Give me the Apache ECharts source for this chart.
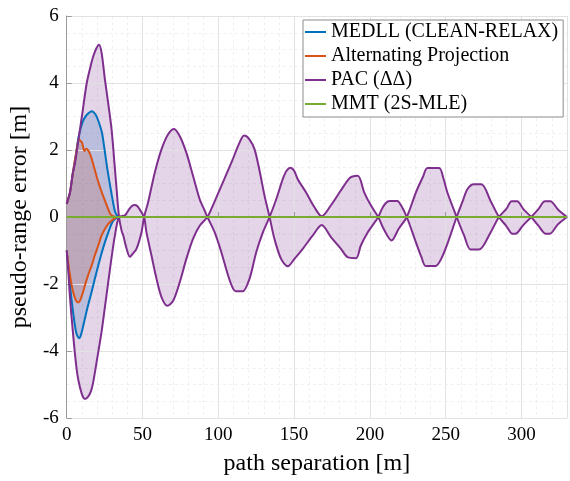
<!DOCTYPE html>
<html>
<head>
<meta charset="utf-8">
<script src="https://cdn.jsdelivr.net/npm/echarts@6/dist/echarts.min.js"></script>
<style>
  html, body { margin: 0; padding: 0; background: #fff; }
  #chart { width: 570px; height: 481px; }
</style>
</head>
<body>
<div id="chart"></div>
<script>
// Pseudo-range error bounds [m] versus path separation [m] for each method.
const seriesNames = ['MEDLL (CLEAN-RELAX)', 'Alternating Projection', 'PAC (\u0394\u0394)', 'MMT (2S-MLE)'];
const xTicks = [0, 50, 100, 150, 200, 250, 300];
const yTicks = [-6, -4, -2, 0, 2, 4, 6];

// MEDLL (CLEAN-RELAX): upper and lower error bound
const medllUpperX = [0, 2.2, 4, 6, 7.7, 9.5, 11.2, 13.4, 16.6, 19, 21, 23.2, 25, 26.5, 28, 29.8, 32, 34];
const medllUpperY = [0.39, 0.74, 1.3, 1.85, 2.35, 2.7, 2.91, 3.06, 3.16, 3.06, 2.85, 2.52, 2.0, 1.52, 1.1, 0.63, 0.14, 0];
const medllLowerX = [0, 1.5, 3, 4.5, 6, 7, 8.1, 9, 10, 12, 14, 16.4, 18.5, 20.8, 23, 25.2, 27.5, 29.6, 31.5, 34];
const medllLowerY = [-1.0, -1.7, -2.4, -2.95, -3.4, -3.55, -3.62, -3.57, -3.42, -3.03, -2.65, -2.24, -1.85, -1.45, -1.08, -0.75, -0.45, -0.2, -0.07, 0];

// Alternating Projection: upper and lower error bound
const apUpperX = [0, 2.2, 4, 6, 7.9, 10.1, 11.6, 12.9, 14.5, 16.6, 19.9, 23.2, 26.5, 28.7, 31, 33];
const apUpperY = [0.39, 0.74, 1.3, 1.85, 2.32, 2.22, 1.97, 2.04, 1.97, 1.72, 1.18, 0.73, 0.34, 0.09, 0.02, 0];
const apLowerX = [0, 2, 4, 6, 7.7, 10, 12, 14, 16.4, 18.5, 20.8, 23, 25.2, 27.5, 29.6, 31.5, 33];
const apLowerY = [-1.0, -1.7, -2.2, -2.48, -2.55, -2.35, -2.04, -1.75, -1.45, -1.15, -0.85, -0.55, -0.36, -0.2, -0.11, -0.04, 0];

// PAC (double delta): the two error curves, crossing each other at the zeros
const pacAX = [0, 1, 2.2, 4, 5.5, 7.7, 10, 13.2, 16, 17.5, 19.5, 21.3, 23, 25.2, 27.5, 29.6, 31.5, 32.9, 34.5,
  36.2, 37.3, 39.5, 41.7, 43.5, 46, 49.3, 51,
  53.7, 58.1, 62.5, 66.9, 70.8, 74.6, 78.9, 83.3, 87.7, 91, 92.8,
  97.6, 102, 106.4, 109.7, 111.5, 116, 120.6, 125, 129.4, 133.8,
  138.2, 142.5, 145, 147.6, 150, 152.4, 157.9, 163.4, 168.2, 174.3, 180.9, 186, 188, 192, 196.3, 200.7, 205.5,
  209, 214.3, 219, 224.3,
  230.3, 235, 238, 245.6, 248.5, 251.1, 257.2,
  262.1, 266.4, 271.9, 279.6, 285.1,
  290, 293.5, 297, 301.5, 306.4,
  311, 316, 318.5, 324, 330];
const pacAY = [0.39, 0.55, 0.74, 1.3, 1.62, 2.3, 3.0, 4.0, 4.55, 4.8, 5.03, 5.14, 4.9, 4.1, 3.35, 2.61, 1.6, 0.83, 0,
  -0.41, -0.55, -0.95, -1.19, -1.1, -0.95, -0.46, 0,
  0.44, 1.33, 2.02, 2.47, 2.63, 2.41, 1.92, 1.23, 0.53, 0.19, 0,
  -0.46, -1.05, -1.74, -2.14, -2.22, -2.22, -1.84, -1.05, -0.46, 0,
  0.53, 1.13, 1.38, 1.47, 1.38, 1.13, 0.73, 0.29, 0.02, 0.35, 0.8, 1.13, 1.2, 1.23, 0.73, 0.34, 0,
  -0.35, -0.7, -0.35, 0,
  0.73, 1.2, 1.46, 1.46, 1.15, 0.73, 0,
  -0.55, -0.97, -0.97, -0.46, 0,
  0.24, 0.47, 0.47, 0.22, 0,
  -0.25, -0.5, -0.5, -0.22, 0];
const pacBX = [0, 1, 2.2, 4, 5.5, 7, 8.8, 10.5, 12, 14, 16, 17.5, 20, 23, 25, 27.4, 29.6, 31.8, 34.5,
  38.4, 41, 43, 44.9, 46.5, 48.2, 51,
  52.6, 55.9, 59.2, 62.5, 66.4, 70.2, 74.6, 78.9, 83.3, 87.7, 92.8,
  95.4, 102, 108.6, 114, 117, 120.5, 123.9, 127.2, 130.5, 133.8,
  137, 141.4, 145.8, 150.2, 155.7, 162.3, 168.2, 174.3, 180.9, 185.3, 190.8, 194, 198.5, 205.5,
  208, 210.5, 213, 218, 220.5, 224.3,
  230.3, 234, 236.8, 243.4, 247, 251.1, 257.2,
  261, 264.3, 268.6, 273.5, 279.6, 285.1,
  290, 294, 296, 301, 306.4,
  311, 315.5, 319, 324.5, 330];
const pacBY = [-1.0, -1.6, -2.44, -3.4, -4.12, -4.7, -5.1, -5.35, -5.43, -5.37, -5.2, -4.92, -4.25, -3.42, -2.75, -1.94, -1.2, -0.55, 0,
  0.05, 0.22, 0.33, 0.36, 0.33, 0.22, 0,
  -0.46, -1.15, -1.84, -2.39, -2.65, -2.5, -1.94, -1.25, -0.65, -0.26, 0,
  0.24, 0.93, 1.62, 2.22, 2.43, 2.32, 2.02, 1.38, 0.63, 0,
  -0.65, -1.25, -1.47, -1.25, -0.95, -0.55, -0.24, -0.6, -0.95, -1.2, -1.23, -0.85, -0.46, 0,
  0.25, 0.42, 0.48, 0.48, 0.35, 0,
  -0.75, -1.2, -1.46, -1.46, -1.25, -0.8, 0,
  0.45, 0.83, 0.98, 0.98, 0.48, 0,
  -0.27, -0.5, -0.5, -0.25, 0,
  0.23, 0.47, 0.47, 0.2, 0];

// MMT (2S-MLE)
const mmtX = [0, 330];
const mmtY = [0, 0];

const COLORS = ['#0072BD', '#D95319', '#7E2F8E', '#77AC30'];
const FONT = 'Liberation Serif';
const SMOOTH = 0.3;

function pts(xs, ys) { return xs.map(function (x, i) { return [x, ys[i]]; }); }

// Shaded region enclosed by two curves
function band(name, color, ax, ay, bx, by) {
  return {
    type: 'custom', name: name, silent: true, z: 1, clip: true,
    data: [[0, 0]],
    renderItem: function (params, api) {
      const poly = [];
      for (let i = 0; i < ax.length; i++) poly.push(api.coord([ax[i], ay[i]]));
      for (let i = bx.length - 1; i >= 0; i--) poly.push(api.coord([bx[i], by[i]]));
      return { type: 'polygon', shape: { points: poly }, style: { fill: color, opacity: 0.2 } };
    }
  };
}

function line(name, color, xs, ys, z, smooth) {
  return {
    type: 'line', name: name, data: pts(xs, ys), z: z, smooth: smooth,
    symbol: 'none', showSymbol: false, silent: true, clip: true,
    lineStyle: { color: color, width: 2 }, itemStyle: { color: color }
  };
}

const chart = echarts.init(document.getElementById('chart'), null, { renderer: 'canvas' });
chart.setOption({
  animation: false,
  backgroundColor: '#fff',
  grid: { left: 65, right: 3, top: 16, bottom: 61, containLabel: false },
  legend: {
    data: seriesNames, orient: 'vertical', left: 303, top: 20,
    backgroundColor: '#fff', borderColor: '#8c8c8c', borderWidth: 1, borderRadius: 0,
    padding: [2, 5, 3, 2], itemGap: 4, itemWidth: 21, itemHeight: 2, icon: 'rect',
    selectedMode: false,
    textStyle: { fontFamily: FONT, fontSize: 20, color: '#000', lineHeight: 20 }
  },
  xAxis: [
    {
      type: 'value', min: 0, max: 330, interval: 50, z: 2,
      name: 'path separation [m]', nameLocation: 'middle', nameGap: 34,
      nameTextStyle: { fontFamily: FONT, fontSize: 24, color: '#000' },
      axisLine: { show: true, lineStyle: { color: '#9a9a9a', width: 1 } },
      axisTick: { show: true, inside: true, length: 5, lineStyle: { color: '#9a9a9a' } },
      axisLabel: {
        fontFamily: FONT, fontSize: 19, color: '#000', margin: 8, showMaxLabel: false,
        formatter: function (v) { return xTicks.indexOf(v) >= 0 ? String(v) : ''; }
      },
      splitLine: { show: true, lineStyle: { color: '#e2e2e2', width: 1 } }
    },
    {
      type: 'value', min: 0, max: 330, interval: 10, z: 0, show: true,
      axisLine: { show: false }, axisTick: { show: false }, axisLabel: { show: false },
      splitLine: { show: true, lineStyle: { color: '#f0f0f0', width: 1, type: [3, 3] } }
    }
  ],
  yAxis: [
    {
      type: 'value', min: -6, max: 6, interval: 2, z: 2,
      name: 'pseudo-range error [m]', nameLocation: 'middle', nameGap: 30,
      nameTextStyle: { fontFamily: FONT, fontSize: 24, color: '#000' },
      axisLine: { show: true, lineStyle: { color: '#9a9a9a', width: 1 } },
      axisTick: { show: true, inside: true, length: 5, lineStyle: { color: '#9a9a9a' } },
      axisLabel: {
        fontFamily: FONT, fontSize: 19, color: '#000', margin: 8,
        formatter: function (v) { return yTicks.indexOf(v) >= 0 ? String(v) : ''; }
      },
      splitLine: { show: true, lineStyle: { color: '#e2e2e2', width: 1 } }
    },
    {
      type: 'value', min: -6, max: 6, interval: 0.5, z: 0,
      axisLine: { show: false }, axisTick: { show: false }, axisLabel: { show: false },
      splitLine: { show: true, lineStyle: { color: '#f0f0f0', width: 1, type: [3, 3] } }
    }
  ],
  series: [
    band('MEDLL band', COLORS[0], medllUpperX, medllUpperY, medllLowerX, medllLowerY),
    band('AP band', COLORS[1], apUpperX, apUpperY, apLowerX, apLowerY),
    band('PAC band', COLORS[2], pacAX, pacAY, pacBX, pacBY),
    line(seriesNames[0], COLORS[0], medllUpperX, medllUpperY, 3, SMOOTH),
    line(seriesNames[0], COLORS[0], medllLowerX, medllLowerY, 3, SMOOTH),
    line(seriesNames[1], COLORS[1], apUpperX, apUpperY, 4, 0.15),
    line(seriesNames[1], COLORS[1], apLowerX, apLowerY, 4, SMOOTH),
    line(seriesNames[2], COLORS[2], pacAX, pacAY, 5, SMOOTH),
    line(seriesNames[2], COLORS[2], pacBX, pacBY, 5, SMOOTH),
    line(seriesNames[3], COLORS[3], mmtX, mmtY, 6, false)
  ]
});
</script>
</body>
</html>
